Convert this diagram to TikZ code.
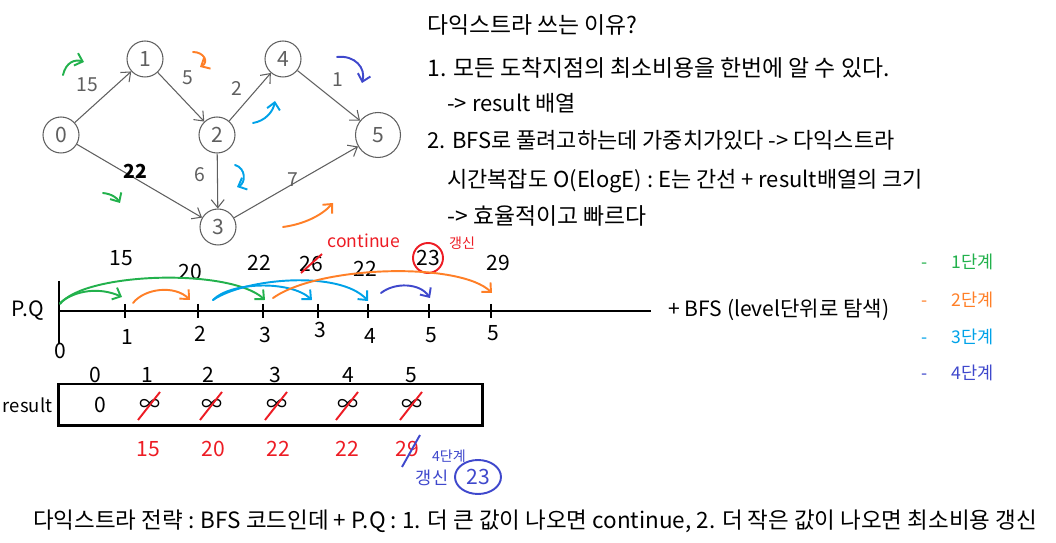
\documentclass[tikz,border=0pt]{standalone}
\usepackage{fontspec}
\setmainfont{Noto Sans CJK KR}
\usepackage{xcolor}
\usetikzlibrary{arrows.meta,positioning}

\definecolor{hgreen}{RGB}{34,177,76}
\definecolor{horange}{RGB}{255,127,39}
\definecolor{hcyan}{RGB}{0,162,232}
\definecolor{hblue}{RGB}{63,72,204}
\definecolor{hred}{RGB}{237,28,36}
\definecolor{edgegray}{RGB}{95,95,95}

\begin{document}
\begin{tikzpicture}[
    x=0.02cm,y=-0.02cm,
    vertex/.style={circle,draw=edgegray,line width=0.6pt,minimum size=0.72cm,inner sep=0pt,text=edgegray,font=\fontsize{12}{12}\selectfont},
    edge/.style={-{Straight Barb[length=1.6mm,width=2.6mm]},draw=edgegray,line width=0.6pt},
    wlabel/.style={text=edgegray,font=\fontsize{11}{11}\selectfont},
    hand/.style={font=\fontsize{12}{12}\selectfont},
    stroke/.style={line width=1.1pt,line cap=round,-{Straight Barb[length=1.4mm,width=2.6mm]}},
    note/.style={anchor=west,inner sep=0pt,font=\fontsize{13}{14}\selectfont},
    mixnote/.style={note,font=\fontsize{12.5}{14}\selectfont}
]
\useasboundingbox (0,0) rectangle (1056,543);

% graph
\node[vertex] (v0) at (61,135) {0};
\node[vertex] (v1) at (145,59) {1};
\node[vertex] (v2) at (217,135) {2};
\node[vertex] (v3) at (218,227) {3};
\node[vertex] (v4) at (283,59) {4};
\node[vertex,minimum size=0.9cm] (v5) at (378,135) {5};
\draw[edge] (v0) -- (v1);
\draw[edge] (v1) -- (v2);
\draw[edge] (v2) -- (v4);
\draw[edge] (v4) -- (v5);
\draw[edge] (v0) -- (v3);
\draw[edge] (v2) -- (v3);
\draw[edge] (v3) -- (v5);
\node[wlabel] (w01) at (87,85) {15};
\node[wlabel] (w12) at (188,78) {5};
\node[wlabel] (w24) at (237,88) {2};
\node[wlabel] (w45) at (338,80) {1};
\node[font=\bfseries\fontsize{11}{11}\selectfont] (w03) at (135,171) {22};
\node[wlabel] (w23) at (200,175) {6};
\node[wlabel] (w35) at (293,180) {7};

% level marks on the graph
\draw[stroke,hgreen] (63,75) .. controls (66,62) and (75,59) .. (84,62);
\draw[stroke,horange] (193,52) .. controls (204,52) and (209,62) .. (200,67);
\draw[stroke,hblue] (337,57) .. controls (355,55) and (366,68) .. (362,83);
\draw[stroke,hcyan] (253,123) .. controls (265,121) and (273,112) .. (275,101);
\draw[stroke,hcyan] (235,165) .. controls (246,168) and (246,183) .. (237,187);
\draw[stroke,hgreen] (103,193) .. controls (112,194) and (117,198) .. (120,203);
\draw[stroke,horange] (283,227) .. controls (305,224) and (322,215) .. (333,203);

% notes
\node[note] (why) at (427,25) {다익스트라 쓰는 이유?};
\node[note] (why1) at (427,68) {1. 모든 도착지점의 최소비용을 한번에 알 수 있다.};
\node[mixnote] (why1a) at (447,103) {-> result 배열};
\node[mixnote] (why2) at (427,140) {2. BFS로 풀려고하는데 가중치가있다 -> 다익스트라};
\node[mixnote] (why2a) at (447,181) {시간복잡도 O(ElogE) : E는 간선 + result배열의 크기};
\node[note] (why2b) at (447,216) {-> 효율적이고 빠르다};

% P.Q line
\node[font=\fontsize{12}{12}\selectfont] (pq) at (28,311) {P.Q};
\coordinate (pqstart) at (59,311);
\coordinate (pqend) at (651,311);
\draw[line width=1.7pt] (pqstart) -- (pqend);
\draw[line width=1.7pt] (59,281) -- (59,344);
\node[hand] (t0) at (60,351) {0};
\foreach \x/\lab/\ly [count=\i] in {125/1/337,198/2/334,263/3/335,318/3/330,368/4/336,429/5/335,491/5/333}{
  \draw[line width=1.1pt] (\x,304) -- (\x,318);
  \node[hand] (t\i) at (\x+2,\ly) {\lab};
}
\foreach \x/\y/\lab [count=\i] in {121/258/15,190/272/20,259/263/22,365/269/22,498/263/29}{
  \node[hand] (c\i) at (\x,\y) {\lab};
}
\node[hand] (c26) at (311,264) {26};
\draw[hred,line width=1.1pt] (301,273) -- (322,254);
\node[hand] (c23) at (428,258) {23};
\draw[hred,line width=1.1pt] (c23) circle (15);
\node[hand,text=hred,font=\fontsize{10}{10}\selectfont] (cont) at (364,241) {continue};
\node[hand,text=hred,font=\fontsize{8}{8}\selectfont] (upd) at (462,243) {갱신};

\draw[stroke,hgreen] (60,304) .. controls (85,272) and (230,268) .. (265,300);
\draw[stroke,hgreen] (60,303) .. controls (75,290) and (100,287) .. (122,297);
\draw[stroke,horange] (133,303) .. controls (145,288) and (175,285) .. (190,300);
\draw[stroke,hcyan] (213,300) .. controls (230,282) and (290,280) .. (312,300);
\draw[stroke,hcyan] (213,300) .. controls (245,278) and (340,270) .. (368,301);
\draw[stroke,horange] (273,298) .. controls (320,265) and (460,262) .. (492,293);
\draw[stroke,hblue] (381,293) .. controls (395,282) and (420,283) .. (430,298);

\node[anchor=west,inner sep=0pt,font=\fontsize{12}{12}\selectfont] (bfs) at (668,310) {+ BFS (level단위로 탐색)};

% legend
\foreach \y/\lab/\col in {262/1/hgreen,300/2/horange,337/3/hcyan,373/4/hblue}{
  \node[anchor=west,text=\col,font=\fontsize{10}{10}\selectfont] (lg\lab) at (915,\y) {-\hspace{14pt}\lab 단계};
}

% result array
\node[draw,line width=1.7pt,minimum width=8.5cm,minimum height=0.84cm] (resultbox) at (270.5,405) {};
\node[left=0.08cm of resultbox,inner sep=0pt,font=\fontsize{10.5}{12}\selectfont] (result) {result};
\node[hand] (r0) at (100,405) {0};
\node[hand] (i0) at (95,375) {0};
\foreach \i/\x/\ix/\v/\vx in {1/150/147/15/148,2/212/208/20/213,3/277/275/22/278,4/348/348/22/347,5/412/411/29/407}{
  \node[hand] (i\i) at (\ix,375) {\i};
  \node[hand] (r\i) at (\x,405) {∞};
  \draw[hred,line width=1.1pt] (\x-12,420) -- (\x+10,392);
  \node[hand,text=hred] (n\i) at (\vx,449) {\v};
}
\draw[hblue,line width=1.1pt] (402,467) -- (420,435);
\node[text=hblue,font=\fontsize{8}{8}\selectfont] (lv4) at (449,456) {4단계};
\node[text=hblue,font=\fontsize{10}{10}\selectfont] (upd2) at (432,478) {갱신};
\node[hand,text=hblue] (new23) at (478,477) {23};
\draw[hblue,line width=1.1pt] (new23) ellipse (23 and 17);

% strategy
\node[font=\fontsize{12.8}{14}\selectfont] (strategy) at (535,521) {다익스트라 전략 : BFS 코드인데 + P.Q : 1. 더 큰 값이 나오면 continue, 2. 더 작은 값이 나오면 최소비용 갱신};
\end{tikzpicture}
\end{document}
